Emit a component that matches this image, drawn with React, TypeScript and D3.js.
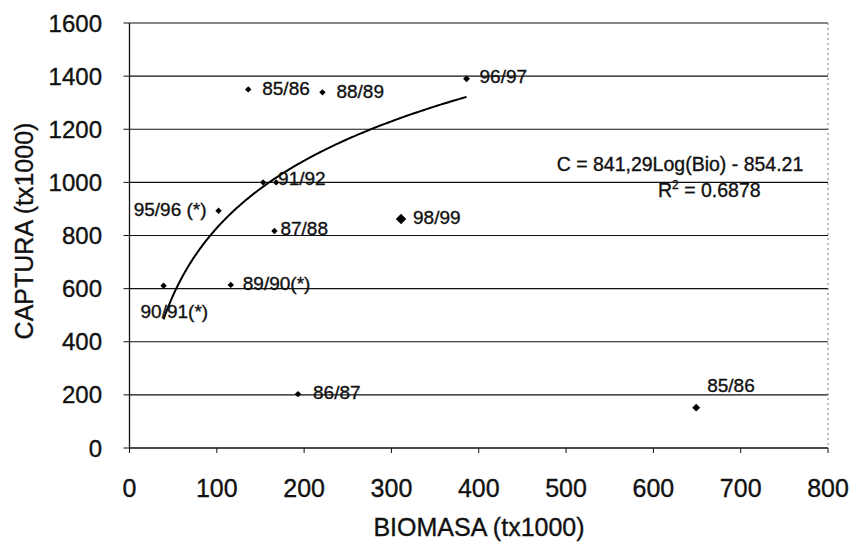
import React from "react";
import * as d3 from "d3";

// ---- data ----
const pointLabels = ["85/86", "88/89", "96/97", "91/92", "", "95/96 (*)", "87/88", "98/99", "90/91(*)", "89/90(*)", "86/87", "85/86"];
const biomasa = [136, 221, 386, 153, 168, 102, 166, 311, 39, 116, 193, 649];
const captura = [1350, 1339, 1390, 1000, 1000, 893, 817, 862, 611, 614, 203, 152];
const xTicks = [0, 100, 200, 300, 400, 500, 600, 700, 800];
const yTicks = [0, 200, 400, 600, 800, 1000, 1200, 1400, 1600];
const trendA = 841.29;
const trendB = -854.21;
const equationText = "C = 841,29Log(Bio) - 854.21";
const r2Text = " = 0.6878";
const xTitle = "BIOMASA (tx1000)";
const yTitle = "CAPTURA (tx1000)";

// ---- styling (not data) ----
const W = 853;
const H = 542;
const left = 129.5;
const right = 828;
const top = 23;
const bottom = 448;
const FONT = "'Liberation Sans', Arial, Helvetica, sans-serif";
const INK = "#111";
const TXT_STROKE = 0.35;
// label offsets relative to each marker [dx, dy, anchor]
const labelOffsets: [number, number, string][] = [
  [14, 6, "start"],
  [14, 6, "start"],
  [13, 4, "start"],
  [15, 3, "start"],
  [0, 0, "start"],
  [-12, 5, "end"],
  [6, 4, "start"],
  [12, 5, "start"],
  [-23, 32, "start"],
  [12, 5, "start"],
  [15, 5, "start"],
  [11, -16, "start"],
];
const markerSizes = [26, 26, 30, 26, 26, 26, 26, 70, 26, 26, 26, 40];

export default function App() {
  const x = d3.scaleLinear().domain([0, 800]).range([left, right]);
  const y = d3.scaleLinear().domain([0, 1600]).range([bottom, top]);

  const fitX = biomasa.slice(0, -1);
  const [x0, x1] = d3.extent(fitX) as [number, number];
  const trendXs = d3.range(0, 201).map((i) => x0 * Math.pow(x1 / x0, i / 200));
  const line = d3
    .line<number>()
    .x((d) => x(d))
    .y((d) => y(trendA * Math.log10(d) + trendB))
    .curve(d3.curveLinear);

  const sym = (size: number) =>
    d3.symbol().type((d3 as any).symbolDiamond2 || d3.symbolDiamond).size(size)() as string;

  const tp = { fill: INK, stroke: INK, strokeWidth: TXT_STROKE };

  return (
    <svg
      width={W}
      height={H}
      style={{ position: "absolute", left: 0, top: 0, background: "#fff" }}
      fontFamily={FONT}
    >
      <rect x={0} y={0} width={W} height={H} fill="#fff" />
      {/* gridlines */}
      {yTicks
        .filter((t) => t > 0)
        .map((t) => (
          <line key={"g" + t} x1={left} x2={right} y1={y(t)} y2={y(t)} stroke={INK} strokeWidth={1.2} />
        ))}
      {/* right border */}
      <line x1={right} x2={right} y1={top} y2={bottom} stroke="#777" strokeWidth={1} strokeDasharray="2,3" />
      {/* axes */}
      <line x1={left} x2={left} y1={top} y2={bottom} stroke={INK} strokeWidth={1.3} />
      <line x1={left} x2={right} y1={bottom} y2={bottom} stroke={INK} strokeWidth={1.3} />
      {yTicks.map((t) => (
        <g key={"yt" + t}>
          <line x1={left - 6} x2={left} y1={y(t)} y2={y(t)} stroke={INK} strokeWidth={1} />
          <text x={102} y={y(t) + 8.5} textAnchor="end" fontSize={24} {...tp}>
            {t}
          </text>
        </g>
      ))}
      {xTicks.map((t) => (
        <g key={"xt" + t}>
          <line x1={x(t)} x2={x(t)} y1={bottom} y2={bottom + 5} stroke={INK} strokeWidth={1} />
          <text x={x(t)} y={497} textAnchor="middle" fontSize={25} {...tp}>
            {t}
          </text>
        </g>
      ))}
      {/* axis titles */}
      <text x={479} y={536} textAnchor="middle" fontSize={25} {...tp}>
        {xTitle}
      </text>
      <text transform={`translate(33,231) rotate(-90)`} textAnchor="middle" fontSize={25} {...tp}>
        {yTitle}
      </text>
      {/* trendline */}
      <path d={line(trendXs) || ""} fill="none" stroke="#000" strokeWidth={2} />
      {/* points */}
      {biomasa.map((b, i) => (
        <path key={"p" + i} d={sym(markerSizes[i])} transform={`translate(${x(b)},${y(captura[i])})`} fill="#000" />
      ))}
      {pointLabels.map((l, i) =>
        l ? (
          <text
            key={"l" + i}
            x={x(biomasa[i]) + labelOffsets[i][0]}
            y={y(captura[i]) + labelOffsets[i][1]}
            textAnchor={labelOffsets[i][2] as any}
            fontSize={19}
            {...tp}
          >
            {l}
          </text>
        ) : null
      )}
      {/* equation */}
      <text x={680} y={171} textAnchor="middle" fontSize={19.5} {...tp}>
        {equationText}
      </text>
      <text x={658} y={197} fontSize={19.5} {...tp}>
        R<tspan dy={-8} fontSize={12}>2</tspan>
        <tspan dy={8}>{r2Text}</tspan>
      </text>
    </svg>
  );
}
